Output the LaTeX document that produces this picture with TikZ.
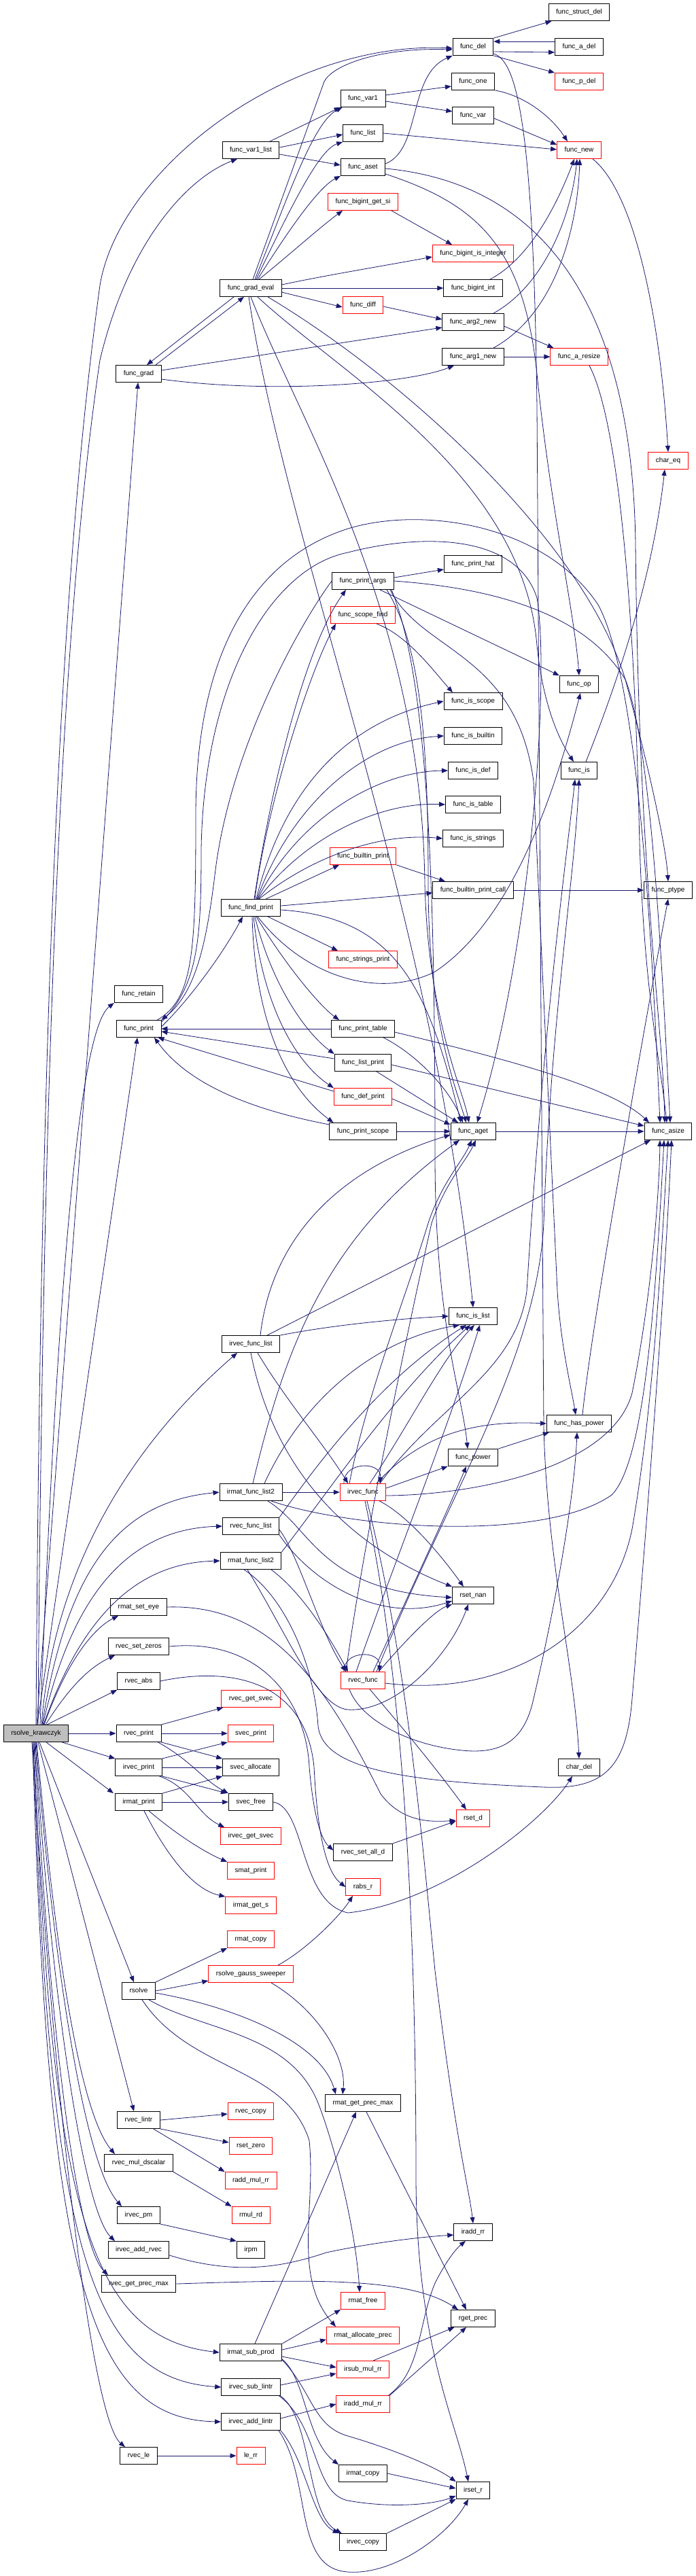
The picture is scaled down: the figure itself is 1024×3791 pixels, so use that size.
\documentclass[tikz,border=0pt]{standalone}
\usepackage{fontspec}
\setmainfont{Liberation Sans}
\usetikzlibrary{arrows.meta}
\definecolor{edgec}{HTML}{191970}
\definecolor{rootg}{HTML}{BFBFBF}
\definecolor{nred}{HTML}{FF0000}
\begin{document}
\begin{tikzpicture}[x=1pt,y=-1pt,
  n/.style={draw=black, line width=0.9pt, rectangle, minimum height=25pt, inner xsep=11pt, inner ysep=0pt, font=\fontsize{10pt}{12pt}\selectfont, text height=7.2pt, text depth=2.2pt},
  rn/.style={n, draw=nred},
  rootn/.style={n, fill=rootg},
  e/.style={draw=edgec, line width=0.8pt, -{Triangle[length=9pt,width=7pt]}}]
\useasboundingbox[fill=white] (0,0) rectangle (1024,3791);

% ---------- nodes ----------
\node[n] (structdel) at (852,18) {func\_struct\_del};
\node[n] (del) at (696,69) {func\_del};
\node[n] (adel) at (852,69) {func\_a\_del};
\node[rn] (pdel) at (852,120) {func\_p\_del};
\node[n] (one) at (696,120) {func\_one};
\node[n] (var1) at (534,145) {func\_var1};
\node[n] (var) at (696,170) {func\_var};
\node[n] (list) at (534,196) {func\_list};
\node[n] (var1list) at (369,221) {func\_var1\_list};
\node[rn] (new) at (852,221) {func\_new};
\node[n] (aset) at (534,246) {func\_aset};
\node[rn] (getsi) at (534,297) {func\_bigint\_get\_si};
\node[rn] (isint) at (696,373) {func\_bigint\_is\_integer};
\node[n] (gradeval) at (369,424) {func\_grad\_eval};
\node[n] (bigint) at (696,424) {func\_bigint\_int};
\node[rn] (diff) at (534,449) {func\_diff};
\node[n] (arg2) at (696,474) {func\_arg2\_new};
\node[n] (arg1) at (696,525) {func\_arg1\_new};
\node[rn] (aresize) at (852,525) {func\_a\_resize};
\node[n] (grad) at (204,550) {func\_grad};
\node[rn] (chareq) at (983,678) {char\_eq};
\node[n] (printhat) at (696,830) {func\_print\_hat};
\node[n] (printargs) at (534,855) {func\_print\_args};
\node[rn] (scopefind) at (534,905) {func\_scope\_find};
\node[n] (op) at (852,1007) {func\_op};
\node[n] (isscope) at (696,1032) {func\_is\_scope};
\node[n] (isbuiltin) at (696,1083) {func\_is\_builtin};
\node[n] (isdef) at (696,1134) {func\_is\_def};
\node[n] (is) at (852,1134) {func\_is};
\node[n] (istable) at (696,1184) {func\_is\_table};
\node[n] (isstrings) at (696,1234) {func\_is\_strings};
\node[rn] (builtinprint) at (534,1260) {func\_builtin\_print};
\node[n] (bpcall) at (696,1310) {func\_builtin\_print\_call};
\node[n] (ptype) at (983,1310) {func\_ptype};
\node[n] (findprint) at (369,1336) {func\_find\_print};
\node[rn] (stringsprint) at (534,1412) {func\_strings\_print};
\node[n] (retain) at (204,1463) {func\_retain};
\node[n] (print) at (204,1514) {func\_print};
\node[n] (printtable) at (534,1514) {func\_print\_table};
\node[n] (listprint) at (534,1564) {func\_list\_print};
\node[rn] (defprint) at (534,1614) {func\_def\_print};
\node[n] (printscope) at (534,1665) {func\_print\_scope};
\node[n] (aget) at (696,1665) {func\_aget};
\node[n] (asize) at (983,1665) {func\_asize};
\node[n] (islist) at (696,1937) {func\_is\_list};
\node[n] (irvfl) at (369,1978) {irvec\_func\_list};
\node[n] (haspower) at (852,2095) {func\_has\_power};
\node[n] (power) at (696,2145) {func\_power};
\node[n] (irmfl) at (369,2196) {irmat\_func\_list2};
\node[rn] (irvfunc) at (534,2196) {irvec\_func};
\node[n] (rvfl) at (369,2246) {rvec\_func\_list};
\node[n] (rmfl) at (369,2297) {rmat\_func\_list2};
\node[n] (rsetnan) at (696,2348) {rset\_nan};
\node[n] (setEye) at (204,2365) {rmat\_set\_eye};
\node[n] (setZeros) at (204,2423) {rvec\_set\_zeros};
\node[rn] (rvfunc) at (534,2473) {rvec\_func};
\node[n] (abs) at (204,2474) {rvec\_abs};
\node[rn] (getsvec) at (369,2500) {rvec\_get\_svec};
\node[rootn] (root) at (53,2551) {rsolve\_krawczyk};
\node[n] (rvprint) at (204,2551) {rvec\_print};
\node[rn] (svprint) at (369,2551) {svec\_print};
\node[n] (irvprint) at (204,2601) {irvec\_print};
\node[n] (svalloc) at (369,2601) {svec\_allocate};
\node[n] (chardel) at (852,2601) {char\_del};
\node[n] (irmprint) at (204,2652) {irmat\_print};
\node[n] (svfree) at (369,2652) {svec\_free};
\node[rn] (rsetd) at (696,2676) {rset\_d};
\node[rn] (irgetsvec) at (369,2702) {irvec\_get\_svec};
\node[n] (setalld) at (534,2726) {rvec\_set\_all\_d};
\node[rn] (smprint) at (369,2753) {smat\_print};
\node[rn] (rabsr) at (534,2777) {rabs\_r};
\node[rn] (irmgets) at (369,2804) {irmat\_get\_s};
\node[rn] (rmcopy) at (369,2854) {rmat\_copy};
\node[rn] (gauss) at (369,2905) {rsolve\_gauss\_sweeper};
\node[n] (rsolve) at (204,2930) {rsolve};
\node[n] (rmgpm) at (534,3095) {rmat\_get\_prec\_max};
\node[rn] (rvcopy) at (369,3107) {rvec\_copy};
\node[n] (lintr) at (204,3120) {rvec\_lintr};
\node[rn] (rsetzero) at (369,3158) {rset\_zero};
\node[n] (muld) at (204,3183) {rvec\_mul\_dscalar};
\node[rn] (raddmul) at (369,3209) {radd\_mul\_rr};
\node[n] (irpmv) at (204,3260) {irvec\_pm};
\node[rn] (rmulrd) at (369,3260) {rmul\_rd};
\node[n] (iraddrr) at (696,3285) {iradd\_rr};
\node[n] (addrvec) at (204,3311) {irvec\_add\_rvec};
\node[n] (irpm) at (369,3311) {irpm};
\node[n] (getprecmax) at (204,3361) {rvec\_get\_prec\_max};
\node[rn] (rmfree) at (534,3386) {rmat\_free};
\node[n] (rgetprec) at (696,3412) {rget\_prec};
\node[rn] (rmalloc) at (534,3437) {rmat\_allocate\_prec};
\node[n] (submprod) at (369,3462) {irmat\_sub\_prod};
\node[rn] (irsubmul) at (534,3487) {irsub\_mul\_rr};
\node[n] (sublintr) at (369,3513) {irvec\_sub\_lintr};
\node[rn] (iraddmul) at (534,3538) {iradd\_mul\_rr};
\node[n] (addlintr) at (369,3564) {irvec\_add\_lintr};
\node[n] (le) at (204,3614) {rvec\_le};
\node[rn] (lerr) at (369,3614) {le\_rr};
\node[n] (irmcopy) at (534,3640) {irmat\_copy};
\node[n] (irsetr) at (696,3665) {irset\_r};
\node[n] (irvcopy) at (534,3741) {irvec\_copy};

% ---------- edges from root ----------
\draw[e] (root.north) .. controls (60,1400) and (95,800) .. (147,420) .. controls (175,250) and (420,60) .. ([yshift=-2pt]del.west);
\draw[e] ([xshift=3pt]root.north) .. controls (64,1400) and (100,850) .. (147,530) .. controls (190,350) and (280,260) .. ([xshift=-20pt]var1list.south);
\draw[e] (root) -- (grad);
\draw[e] ([xshift=6pt]root.north) .. controls (80,2000) and (110,1520) .. (retain.south west);
\draw[e] (root) -- (print);
\draw[e] ([xshift=8pt]root.north) .. controls (80,2300) and (200,2120) .. ([xshift=-20pt]irvfl.south);
\draw[e] ([xshift=9pt]root.north) .. controls (100,2300) and (180,2210) .. (irmfl.west);
\draw[e] ([xshift=10pt]root.north) .. controls (110,2330) and (200,2250) .. (rvfl.west);
\draw[e] ([xshift=11pt]root.north) .. controls (120,2380) and (200,2300) .. (rmfl.west);
\draw[e] ([xshift=12pt]root.north) .. controls (100,2440) and (140,2395) .. ([xshift=-30pt]setEye.south);
\draw[e] ([xshift=14pt]root.north) .. controls (110,2470) and (140,2450) .. ([xshift=-35pt]setZeros.south);
\draw[e] ([xshift=16pt]root.north) -- (abs.south west);
\draw[e] (root) -- (rvprint);
\draw[e] ([xshift=-10pt]root.south east) -- (irvprint.north west);
\draw[e] ([xshift=15pt]root.south) -- ([xshift=-2pt]irmprint.north west);
\draw[e] ([xshift=5pt]root.south) -- ([xshift=-7pt]rsolve.north);
\draw[e] ([xshift=3pt]root.south) -- ([xshift=-7pt]lintr.north);
\draw[e] ([xshift=1pt]root.south) .. controls (75,2800) and (110,3100) .. ([xshift=-35pt]muld.north);
\draw[e] (root.south) .. controls (75,2850) and (120,3180) .. ([xshift=-25pt]irpmv.north);
\draw[e] ([xshift=-1pt]root.south) .. controls (72,2900) and (120,3250) .. ([xshift=-35pt]addrvec.north);
\draw[e] ([xshift=-2pt]root.south) .. controls (70,2950) and (110,3300) .. ([xshift=-45pt]getprecmax.north);
\draw[e] ([xshift=-3pt]root.south) .. controls (75,3250) and (130,3440) .. (submprod.west);
\draw[e] ([xshift=-4pt]root.south) .. controls (72,3300) and (130,3500) .. (sublintr.west);
\draw[e] ([xshift=-5pt]root.south) .. controls (70,3350) and (130,3560) .. (addlintr.west);
\draw[e] ([xshift=-6pt]root.south) .. controls (80,3100) and (135,3560) .. ([xshift=-20pt]le.north);

% ---------- top cluster ----------
\draw[e] ([xshift=25pt]grad.north) -- ([xshift=-10pt]gradeval.south);
\draw[e] ([xshift=-25pt]gradeval.south) -- ([xshift=12pt]grad.north);
\draw[e] ([yshift=5pt]grad.east) -- ([yshift=-8pt]arg2.west);
\draw[e] ([yshift=-8pt]grad.east) .. controls (400,580) and (600,565) .. ([xshift=-28pt]arg1.south);
\draw[e] ([xshift=28pt]var1list.north) -- (var1.south west);
\draw[e] ([yshift=4pt]var1list.east) -- ([yshift=-2pt]list.west);
\draw[e] ([yshift=-6pt]var1list.east) -- ([yshift=3pt]aset.west);
\draw[e] ([yshift=5pt]var1.east) -- ([yshift=-7pt]one.west);
\draw[e] ([yshift=-4pt]var1.east) -- ([yshift=6pt]var.west);
\draw[e] ([xshift=3pt]gradeval.north) -- (477,120) .. controls (490,95) and (560,70) .. ([yshift=-4pt]del.west);
\draw[e] ([xshift=6pt]gradeval.north) .. controls (420,300) and (460,180) .. ([xshift=3pt]var1.south west);
\draw[e] ([xshift=8pt]gradeval.north) .. controls (430,300) and (470,220) .. (list.south west);
\draw[e] ([xshift=10pt]gradeval.north) .. controls (430,330) and (470,275) .. (aset.south west);
\draw[e] ([xshift=12pt]gradeval.north) .. controls (420,380) and (470,335) .. ([xshift=-30pt]getsi.south);
\draw[e] ([yshift=5pt]gradeval.east) .. controls (480,405) and (560,392) .. ([yshift=-5pt]isint.west);
\draw[e] (gradeval) -- (bigint);
\draw[e] ([yshift=-6pt]gradeval.east) -- ([yshift=-3pt]diff.west);
\draw[e] ([xshift=-3pt]gradeval.south) .. controls (420,800) and (640,1350) .. (islist.north);
\draw[e] (gradeval.south) .. controls (440,620) and (620,900) .. (625,1300) .. controls (630,1500) and (680,1600) .. ([xshift=-6pt]aget.north);
\draw[e] ([xshift=10pt]gradeval.south) .. controls (500,550) and (770,700) .. (790,950) .. controls (800,1050) and (830,1100) .. ([xshift=-8pt]is.north);
\draw[e] ([xshift=25pt]gradeval.south) .. controls (600,560) and (860,800) .. (920,1000) .. controls (960,1150) and (980,1250) .. (ptype.north);
\draw[e] ([xshift=-10pt]getsi.south east) -- ([xshift=-31pt]isint.north);
\draw[e] ([yshift=-2pt]diff.east) -- ([yshift=4pt]arg2.west);
\draw[e] ([yshift=5pt]aset.east) .. controls (620,220) and (600,110) .. (del.south west);
\draw[e] ([yshift=-2pt]aset.east) .. controls (800,270) and (930,450) .. (935,800) .. controls (940,1300) and (975,1500) .. ([xshift=-5pt]asize.north);
\draw[e] ([yshift=-10pt]aset.east) .. controls (700,300) and (770,360) .. (790,550) .. controls (810,750) and (845,900) .. (op.north);
\draw[e] (del.north east) -- ([xshift=5pt]structdel.south west);
\draw[e] ([yshift=-7pt]del.east) -- ([yshift=-8pt]adel.west);
\draw[e] ([yshift=8pt]adel.west) -- ([yshift=8pt]del.east);
\draw[e] (del.south east) -- (pdel.north west);
\draw[e] ([yshift=-10pt]del.east) .. controls (760,90) and (785,180) .. (790,600) -- (800,2100) .. controls (805,2300) and (845,2450) .. (chardel.north);
\draw[e] (one.south east) .. controls (770,140) and (810,170) .. ([xshift=-17pt]new.north);
\draw[e] ([yshift=-4pt]var.east) -- ([yshift=8pt]new.west);
\draw[e] (list.east) -- ([yshift=1pt]new.west);
\draw[e] ([xshift=25pt]bigint.north) .. controls (780,380) and (820,300) .. ([xshift=-7pt]new.south);
\draw[e] ([xshift=30pt]arg2.north) .. controls (800,420) and (840,320) .. ([xshift=-3pt]new.south);
\draw[e] ([xshift=30pt]arg1.north) .. controls (820,460) and (850,330) .. ([xshift=1pt]new.south);
\draw[e] ([yshift=-6pt]arg2.east) -- ([xshift=5pt]aresize.north west);
\draw[e] (arg1) -- (aresize);
\draw[e] ([xshift=20pt]new.south) .. controls (930,280) and (970,450) .. (chareq.north);
\draw[e] ([xshift=15pt]aresize.south) .. controls (900,600) and (930,800) .. (940,1200) .. controls (945,1450) and (970,1550) .. ([xshift=-2pt]asize.north);
\draw[e] ([xshift=10pt]is.north) .. controls (910,1000) and (960,850) .. ([xshift=-5pt]chareq.south);

% ---------- print cluster ----------
\draw[e] ([yshift=5pt]printargs.east) -- ([yshift=-8pt]printhat.west);
\draw[e] ([xshift=25pt]printargs.south) -- (op.north west);
\draw[e] (printargs.west) .. controls (440,920) and (340,1100) .. (317,1280) .. controls (305,1380) and (290,1460) .. (print.north east);
\draw[e] ([xshift=-6pt]print.north east) .. controls (285,1470) and (288,1400) .. (288,1200) .. controls (288,950) and (380,820) .. (512,778) .. controls (620,745) and (800,770) .. (880,890) .. controls (940,1000) and (960,1400) .. ([xshift=-12pt]asize.north);
\draw[e] ([yshift=-3pt]print.north east) .. controls (292,1450) and (296,1380) .. (296,1250) .. controls (300,1000) and (400,835) .. (512,813) .. controls (620,785) and (760,785) .. (790,880) .. controls (810,1000) and (780,1400) .. ([xshift=6pt]aget.north);
\draw[e] (printargs.east) .. controls (720,865) and (860,900) .. (920,1000) .. controls (960,1100) and (975,1450) .. ([xshift=3pt]asize.north);
\draw[e] ([xshift=40pt]printargs.south) .. controls (620,960) and (760,960) .. (785,1150) -- (820,1900) .. controls (825,1980) and (840,2040) .. ([xshift=-5pt]haspower.north);
\draw[e] ([xshift=35pt]printargs.south) .. controls (620,950) and (630,1100) .. (630,1300) .. controls (630,1500) and (670,1600) .. ([xshift=-10pt]aget.north);
\draw[e] ([xshift=42pt]printargs.south) .. controls (630,1000) and (640,1300) .. (640,1700) .. controls (640,1950) and (680,2050) .. ([xshift=-8pt]power.north);
\draw[e] ([xshift=20pt]scopefind.south) .. controls (600,935) and (640,990) .. ([xshift=-30pt]isscope.north);
\draw[e] ([xshift=5pt]findprint.north) .. controls (400,1150) and (450,950) .. ([xshift=-25pt]printargs.south);
\draw[e] ([xshift=6pt]findprint.north) .. controls (390,1200) and (450,1000) .. ([xshift=-40pt]scopefind.south);
\draw[e] ([xshift=8pt]findprint.north) .. controls (420,1150) and (520,1060) .. (isscope.west);
\draw[e] ([xshift=9pt]findprint.north) .. controls (430,1180) and (540,1090) .. (isbuiltin.west);
\draw[e] ([xshift=10pt]findprint.north) .. controls (440,1200) and (560,1135) .. (isdef.west);
\draw[e] ([xshift=11pt]findprint.north) .. controls (450,1230) and (560,1180) .. (istable.west);
\draw[e] ([xshift=12pt]findprint.north) .. controls (460,1260) and (560,1225) .. (isstrings.west);
\draw[e] ([xshift=22pt]findprint.north) -- ([xshift=-35pt]builtinprint.south);
\draw[e] ([yshift=3pt]findprint.east) -- ([yshift=-4pt]bpcall.west);
\draw[e] ([yshift=-3pt]findprint.east) .. controls (580,1350) and (630,1450) .. ([xshift=-18pt]aget.north);
\draw[e] ([xshift=25pt]findprint.south) -- ([xshift=-37pt]stringsprint.north);
\draw[e] ([xshift=10pt]findprint.south) .. controls (450,1440) and (560,1470) .. (640,1430) .. controls (760,1350) and (820,1150) .. ([xshift=2pt]op.south);
\draw[e] ([xshift=8pt]findprint.south) .. controls (420,1420) and (470,1480) .. ([xshift=-35pt]printtable.north);
\draw[e] ([xshift=6pt]findprint.south) .. controls (400,1450) and (450,1520) .. (listprint.north west);
\draw[e] ([xshift=4pt]findprint.south) .. controls (385,1470) and (430,1560) .. (defprint.north west);
\draw[e] ([xshift=2pt]findprint.south) .. controls (375,1500) and (420,1600) .. ([xshift=6pt]printscope.north west);
\draw[e] ([yshift=3pt]print.east) .. controls (280,1470) and (330,1400) .. ([xshift=-12pt]findprint.south);
\draw[e] (printtable.west) -- (print.east);
\draw[e] ([yshift=6pt]listprint.west) -- ([yshift=-4pt]print.east);
\draw[e] ([yshift=8pt]defprint.west) -- ([xshift=-5pt]print.south east);
\draw[e] ([yshift=10pt]printscope.west) .. controls (380,1635) and (280,1600) .. ([xshift=23pt]print.south);
\draw[e] (builtinprint.south east) -- ([xshift=-41pt]bpcall.north);
\draw[e] (bpcall) -- (ptype);
\draw[e] ([xshift=30pt]printtable.south) .. controls (610,1550) and (660,1600) .. ([xshift=-15pt]aget.north);
\draw[e] ([yshift=-5pt]printtable.east) .. controls (750,1560) and (900,1600) .. ([xshift=-28pt]asize.north);
\draw[e] ([xshift=20pt]listprint.south) -- ([xshift=-22pt]aget.north);
\draw[e] ([yshift=-3pt]listprint.east) -- ([yshift=8pt]asize.west);
\draw[e] ([yshift=-3pt]defprint.east) -- ([yshift=10pt]aget.west);
\draw[e] (printscope) -- (aget);
\draw[e] (aget) -- (asize);
\draw[e] ([xshift=5pt]haspower.north) .. controls (870,1950) and (950,1500) .. (ptype.south);
\draw[e] (power.north east) -- ([xshift=4pt]haspower.south west);

% ---------- func list cluster ----------
\draw[e] (irvfl.north east) .. controls (500,1948) and (600,1940) .. (islist.west);
\draw[e] ([xshift=14pt]irvfl.north) .. controls (400,1820) and (500,1720) .. ([yshift=-5pt]aget.west);
\draw[e] ([xshift=24pt]irvfl.north) -- ([xshift=-26pt]asize.south);
\draw[e] ([xshift=10pt]irvfl.south) .. controls (420,2060) and (480,2130) .. ([xshift=-22pt]irvfunc.north);
\draw[e] (irvfl.south) .. controls (400,2150) and (500,2270) .. (rsetnan.north west);
\draw[e] ([xshift=3pt]irmfl.north) .. controls (420,1980) and (480,1820) .. ([xshift=-20pt]aget.south);
\draw[e] ([xshift=20pt]irmfl.north) .. controls (450,2050) and (560,1970) .. ([xshift=-20pt]islist.south);
\draw[e] (irmfl) -- (irvfunc);
\draw[e] ([xshift=30pt]irmfl.south) .. controls (520,2250) and (800,2270) .. (900,2200) .. controls (950,2150) and (965,1900) .. ([xshift=-6pt]asize.south);
\draw[e] ([xshift=25pt]irmfl.south) .. controls (460,2250) and (470,2340) .. ([yshift=-3pt]rsetnan.west);
\draw[e] (rvfl.north east) .. controls (470,2150) and (560,2030) .. ([xshift=-10pt]islist.south);
\draw[e] ([yshift=-5pt]rvfl.east) .. controls (440,2290) and (470,2400) .. ([xshift=-25pt]rvfunc.north);
\draw[e] (rvfl.south east) .. controls (460,2330) and (560,2390) .. ([yshift=-8pt]rsetnan.west);
\draw[e] (rmfl.north east) .. controls (480,2200) and (580,2050) .. ([xshift=-4pt]islist.south);
\draw[e] ([xshift=30pt]rmfl.south) .. controls (440,2340) and (480,2400) .. ([xshift=-22pt]rvfunc.north);
\draw[e] ([xshift=-10pt]rmfl.south) .. controls (420,2350) and (462,2450) .. (468,2540) .. controls (475,2605) and (600,2622) .. (800,2630) .. controls (890,2634) and (922,2600) .. (930,2500) .. controls (955,2200) and (978,1900) .. ([xshift=5pt]asize.south);
\draw[e] ([xshift=-5pt]rmfl.south) .. controls (420,2400) and (465,2512) .. (512,2516) .. controls (580,2520) and (660,2440) .. ([xshift=-7pt]rsetnan.south);
\draw[e] ([xshift=-28pt]irvfunc.north) .. controls (505,2150) and (562,2150) .. ([xshift=25pt]irvfunc.north);
\draw[e] ([xshift=-28pt]rvfunc.north) .. controls (505,2428) and (560,2428) .. ([xshift=24pt]rvfunc.north);
\draw[e] ([xshift=25pt]irvfunc.north) .. controls (640,2070) and (760,2020) .. (775,1900) .. controls (800,1500) and (835,1250) .. ([xshift=-6pt]is.south);
\draw[e] ([xshift=20pt]rvfunc.north) .. controls (660,2200) and (790,2000) .. (800,1800) .. controls (810,1500) and (845,1300) .. (is.south);
\draw[e] ([xshift=10pt]irvfunc.north) .. controls (600,2100) and (650,2000) .. ([xshift=2pt]islist.south);
\draw[e] ([xshift=-10pt]rvfunc.north) .. controls (580,2300) and (660,2100) .. ([xshift=10pt]islist.south);
\draw[e] ([xshift=-20pt]irvfunc.north) .. controls (540,2050) and (600,1900) .. (630,1800) .. controls (650,1740) and (680,1710) .. ([xshift=-2pt]aget.south);
\draw[e] ([xshift=-25pt]rvfunc.north) .. controls (530,2300) and (590,2000) .. (635,1800) .. controls (655,1740) and (685,1710) .. ([xshift=4pt]aget.south);
\draw[e] ([yshift=-5pt]irvfunc.east) .. controls (700,2200) and (900,2160) .. (930,2050) .. controls (960,1900) and (970,1750) .. ([xshift=-12pt]asize.south);
\draw[e] ([yshift=-4pt]rvfunc.east) .. controls (750,2500) and (900,2400) .. (930,2250) .. controls (965,2050) and (975,1800) .. ([xshift=0pt]asize.south);
\draw[e] ([xshift=-10pt]irvfunc.south east) .. controls (600,2230) and (650,2290) .. ([xshift=-14pt]rsetnan.north);
\draw[e] ([xshift=-10pt]rvfunc.north east) .. controls (600,2410) and (640,2370) .. (rsetnan.south west);
\draw[e] ([yshift=6pt]irvfunc.east) -- (power.south west);
\draw[e] ([xshift=20pt]irvfunc.north) .. controls (620,2110) and (700,2090) .. (haspower.west);
\draw[e] ([xshift=15pt]rvfunc.north) .. controls (600,2350) and (660,2220) .. ([xshift=-10pt]power.south);
\draw[e] ([xshift=-20pt]rvfunc.south) .. controls (530,2530) and (600,2568) .. (680,2576) .. controls (740,2582) and (772,2560) .. (785,2500) .. controls (820,2350) and (845,2200) .. ([xshift=-3pt]haspower.south);
\draw[e] ([xshift=10pt]rvfunc.south) .. controls (590,2540) and (640,2600) .. ([xshift=-10pt]rsetd.north);
\draw[e] ([xshift=3pt]irvfunc.south) .. controls (600,2500) and (612,2900) .. (612,3200) .. controls (612,3450) and (670,3560) .. ([xshift=-7pt]irsetr.north);
\draw[e] ([xshift=6pt]irvfunc.south) .. controls (600,2450) and (620,2700) .. (640,2900) .. controls (670,3150) and (690,3220) .. (iraddrr.north);

% ---------- lower left ----------
\draw[e] (setEye.east) .. controls (400,2360) and (480,2480) .. (560,2640) .. controls (590,2680) and (630,2682) .. ([yshift=-3pt]rsetd.west);
\draw[e] (setZeros.east) .. controls (380,2410) and (450,2500) .. (455,2600) .. controls (460,2660) and (470,2705) .. ([yshift=3pt]setalld.west);
\draw[e] (abs.east) .. controls (350,2450) and (450,2480) .. (462,2600) .. controls (467,2700) and (480,2755) .. (rabsr.west);
\draw[e] (setalld.north east) -- ([yshift=-4pt]rsetd.west);
\draw[e] (rvprint.north east) -- ([xshift=3pt]getsvec.south west);
\draw[e] (rvprint) -- (svprint);
\draw[e] (rvprint.south east) -- (svalloc.north west);
\draw[e] ([xshift=-5pt]rvprint.south east) .. controls (280,2590) and (300,2620) .. (svfree.north west);
\draw[e] (irvprint.north east) -- (svprint.south west);
\draw[e] (irvprint) -- (svalloc);
\draw[e] (irvprint.south east) -- ([xshift=-2pt]svfree.north west);
\draw[e] ([xshift=-4pt]irvprint.south east) .. controls (280,2630) and (290,2670) .. ([xshift=6pt]irgetsvec.north west);
\draw[e] (irmprint.north east) -- (svalloc.south west);
\draw[e] (irmprint) -- (svfree);
\draw[e] ([xshift=15pt]irmprint.south) .. controls (260,2700) and (300,2725) .. (smprint.north west);
\draw[e] ([xshift=8pt]irmprint.south) .. controls (240,2720) and (280,2780) .. (irmgets.north west);
\draw[e] (svfree.east) .. controls (450,2660) and (440,2800) .. (512,2815) .. controls (650,2800) and (800,2680) .. ([xshift=-10pt]chardel.south);
\draw[e] (rsolve.north east) -- (rmcopy.south west);
\draw[e] (rsolve.east) -- ([yshift=-10pt]gauss.west);
\draw[e] ([yshift=-3pt]rsolve.east) .. controls (330,2950) and (470,3000) .. ([xshift=-40pt]rmgpm.north);
\draw[e] ([xshift=15pt]rsolve.south) .. controls (300,2990) and (430,2990) .. (470,3100) .. controls (500,3180) and (525,3300) .. ([xshift=-5pt]rmfree.north);
\draw[e] ([xshift=5pt]rsolve.south) .. controls (280,3050) and (420,3040) .. (455,3150) .. controls (465,3250) and (430,3350) .. ([xshift=-40pt]rmalloc.north);
\draw[e] ([xshift=40pt]gauss.north) .. controls (450,2870) and (500,2820) .. ([xshift=-15pt]rabsr.south);
\draw[e] ([xshift=30pt]gauss.south) .. controls (470,2960) and (510,3030) .. ([xshift=-30pt]rmgpm.north);
\draw[e] ([xshift=5pt]rmgpm.south) -- ([xshift=-10pt]rgetprec.north);
\draw[e] ([xshift=6pt]submprod.north) -- ([xshift=-10pt]rmgpm.south);
\draw[e] (lintr.east) -- ([yshift=-4pt]rvcopy.west);
\draw[e] (lintr.south east) -- ([yshift=5pt]rsetzero.west);
\draw[e] ([xshift=-10pt]lintr.south east) -- (raddmul.north west);
\draw[e] (muld.south east) -- (rmulrd.north west);
\draw[e] (irpmv.south east) -- (irpm.north west);
\draw[e] ([yshift=-8pt]addrvec.east) .. controls (350,3350) and (420,3335) .. (480,3315) .. controls (550,3300) and (620,3292) .. ([yshift=-4pt]iraddrr.west);
\draw[e] (getprecmax.east) .. controls (450,3355) and (600,3350) .. ([xshift=-22pt]rgetprec.north);
\draw[e] (submprod.north east) -- (rmfree.south west);
\draw[e] ([yshift=4pt]submprod.east) -- ([yshift=-6pt]rmalloc.west);
\draw[e] ([yshift=-6pt]submprod.east) -- ([yshift=3pt]irsubmul.west);
\draw[e] ([yshift=-10pt]submprod.east) .. controls (450,3500) and (450,3590) .. (irmcopy.north west);
\draw[e] ([yshift=-11pt]submprod.east) .. controls (460,3520) and (460,3570) .. (512,3585) .. controls (580,3605) and (640,3630) .. (irsetr.north west);
\draw[e] ([yshift=3pt]sublintr.east) -- ([yshift=-6pt]irsubmul.west);
\draw[e] (sublintr.south east) .. controls (460,3560) and (450,3700) .. ([xshift=4pt]irvcopy.north west);
\draw[e] ([xshift=-2pt]sublintr.south east) .. controls (470,3570) and (460,3670) .. (512,3680) .. controls (580,3692) and (640,3685) .. ([yshift=-8pt]irsetr.west);
\draw[e] ([yshift=5pt]addlintr.east) -- (iraddmul.west);
\draw[e] (addlintr.south east) .. controls (450,3620) and (460,3710) .. (irvcopy.north west);
\draw[e] ([xshift=-3pt]addlintr.south east) .. controls (460,3650) and (430,3780) .. (512,3785) .. controls (580,3790) and (660,3730) .. ([xshift=-7pt]irsetr.south);
\draw[e] ([xshift=15pt]irsubmul.north) -- ([xshift=5pt]rgetprec.south west);
\draw[e] (iraddmul.north east) -- ([xshift=-10pt]rgetprec.south);
\draw[e] ([xshift=-2pt]iraddmul.north east) .. controls (620,3490) and (615,3420) .. (640,3360) .. controls (655,3330) and (670,3310) .. ([xshift=-11pt]iraddrr.south);
\draw[e] (irmcopy.east) -- ([yshift=3pt]irsetr.west);
\draw[e] (irvcopy.north east) -- (irsetr.south west);
\draw[e] (le) -- (lerr);
\end{tikzpicture}
\end{document}
